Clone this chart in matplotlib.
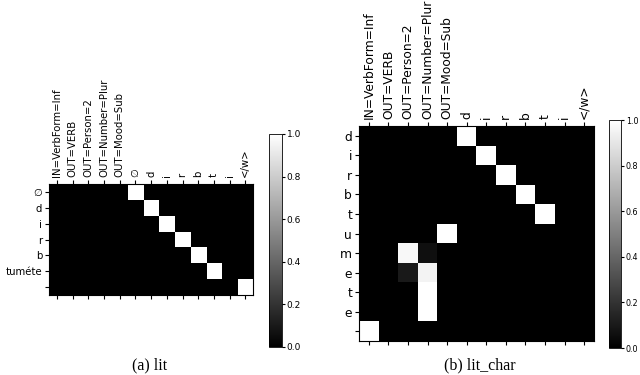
import matplotlib.pyplot as plt
import numpy as np

## attention matrices
lit_cols = ['IN=VerbForm=Inf', 'OUT=VERB', 'OUT=Person=2', 'OUT=Number=Plur',
            'OUT=Mood=Sub', '∅', 'd', 'i', 'r', 'b', 't', 'i', '</w>']
lit_rows = ['∅', 'd', 'i', 'r', 'b', 'tuméte', '']
lit_vals = [
    [0, 0, 0, 0, 0, 1, 0, 0, 0, 0, 0, 0, 0],
    [0, 0, 0, 0, 0, 0, 1, 0, 0, 0, 0, 0, 0],
    [0, 0, 0, 0, 0, 0, 0, 1, 0, 0, 0, 0, 0],
    [0, 0, 0, 0, 0, 0, 0, 0, 1, 0, 0, 0, 0],
    [0, 0, 0, 0, 0, 0, 0, 0, 0, 1, 0, 0, 0],
    [0, 0, 0, 0, 0, 0, 0, 0, 0, 0, 1, 0, 0],
    [0, 0, 0, 0, 0, 0, 0, 0, 0, 0, 0, 0, 1],
]

char_cols = ['IN=VerbForm=Inf', 'OUT=VERB', 'OUT=Person=2', 'OUT=Number=Plur',
             'OUT=Mood=Sub', 'd', 'i', 'r', 'b', 't', 'i', '</w>']
char_rows = ['d', 'i', 'r', 'b', 't', 'u', 'm', 'e', 't', 'e', '']
char_vals = [
    [0, 0, 0, 0, 0, 1, 0, 0, 0, 0, 0, 0],
    [0, 0, 0, 0, 0, 0, 1, 0, 0, 0, 0, 0],
    [0, 0, 0, 0, 0, 0, 0, 1, 0, 0, 0, 0],
    [0, 0, 0, 0, 0, 0, 0, 0, 1, 0, 0, 0],
    [0, 0, 0, 0, 0, 0, 0, 0, 0, 1, 0, 0],
    [0, 0, 0, 0, 1, 0, 0, 0, 0, 0, 0, 0],
    [0, 0, 0.97, 0.06, 0, 0, 0, 0, 0, 0, 0, 0],
    [0, 0, 0.1, 0.95, 0, 0, 0, 0, 0, 0, 0, 0],
    [0, 0, 0, 1, 0, 0, 0, 0, 0, 0, 0, 0],
    [0, 0, 0, 1, 0, 0, 0, 0, 0, 0, 0, 0],
    [1, 0, 0, 0, 0, 0, 0, 0, 0, 0, 0, 0],
]


def draw_attention(ax, cax, vals, cols, rows, fs, cb_fs, caption, cap_x):
    im = ax.imshow(np.array(vals), cmap='gray', vmin=0, vmax=1,
                   aspect='auto', interpolation='nearest')
    ax.set_xticks(range(len(cols)))
    ax.set_xticklabels(cols, rotation=90, fontsize=fs)
    ax.set_yticks(range(len(rows)))
    ax.set_yticklabels(rows, fontsize=fs)
    ax.tick_params(axis='x', top=True, bottom=True, labeltop=True, labelbottom=False,
                   pad=2, length=3)
    ax.tick_params(axis='y', pad=2, length=3)
    cb = plt.colorbar(im, cax=cax, ticks=[0, 0.2, 0.4, 0.6, 0.8, 1.0])
    cb.ax.tick_params(labelsize=cb_fs, pad=1, length=2.5)
    cb.outline.set_linewidth(0.6)
    plt.figtext(cap_x, 0.015, caption, ha='center', family='Liberation Serif', fontsize=11.5)


fig = plt.figure(figsize=(6.4, 3.75), dpi=100)

ax1 = fig.add_axes([0.0766, 0.2133, 0.319, 0.296])
cax1 = fig.add_axes([0.421, 0.0747, 0.019, 0.568])
draw_attention(ax1, cax1, lit_vals, lit_cols, lit_rows, 7.3, 6.5, '(a) lit', 0.234)

ax2 = fig.add_axes([0.561, 0.0907, 0.367, 0.573])
cax2 = fig.add_axes([0.951, 0.072, 0.019, 0.608])
draw_attention(ax2, cax2, char_vals, char_cols, char_rows, 8.8, 5.8, '(b) lit_char', 0.75)

plt.savefig('out.png')
